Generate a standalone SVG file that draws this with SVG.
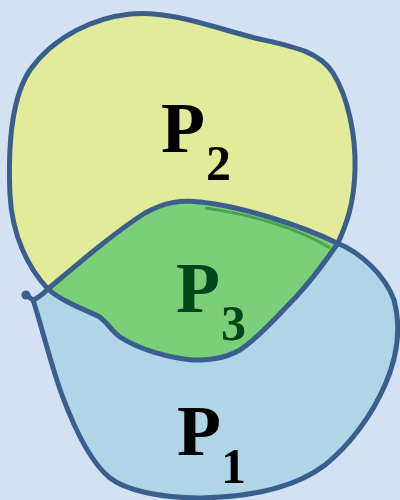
<svg xmlns="http://www.w3.org/2000/svg" width="400" height="500" viewBox="0 0 400 500">
  <style>
    .outline { fill: none; stroke: #3b5f8c; stroke-width: 5; stroke-linejoin: round; stroke-linecap: round; }
    .lbl { font-family: "Liberation Serif", "Times New Roman", serif; font-weight: bold; }
    .big { font-size: 72px; }
    .sub { font-size: 50px; }
  </style>
  <defs>
    <path id="p2shape" d="M 48,289 C 28,268 12,235 10,195 C 8,150 10,100 30,70 C 55,35 95,18 130,14 C 170,10 215,28 255,38 C 290,46 318,50 333,73 C 348,97 356,135 355,170 C 354,205 346,225 338,243 C 325,262 310,282 295,298 C 280,313 262,335 240,350 C 222,360 205,360 193,360 C 170,358 140,350 120,337 C 110,330 106,320 98,316 C 80,308 60,300 48,289 Z"/>
    <path id="p1shape" d="M 33,300 C 38,298 44,293 48,289 C 80,262 115,232 145,213 C 165,202 180,200 200,202 C 240,206 300,225 337,243 C 360,252 385,275 394,300 C 402,330 396,360 385,385 C 372,415 350,445 325,465 C 295,488 250,497 200,498 C 160,498 125,490 110,478 C 90,462 75,430 62,395 C 50,362 40,320 33,300 Z"/>
    <clipPath id="clipP1"><use href="#p1shape"/></clipPath>
  </defs>
  <rect x="0" y="0" width="400" height="500" fill="#d3e1f3"/>
  <g id="P2">
    <use href="#p2shape" fill="#e2eb99"/>
  </g>
  <g id="P1">
    <use href="#p1shape" fill="#b0d5e6"/>
  </g>
  <g id="P3">
    <use href="#p2shape" fill="#7acf78" clip-path="url(#clipP1)"/>
    <path d="M 205,208 C 250,214 300,229 330,248" fill="none" stroke="#4fa050" stroke-width="3"/>
    <path d="M 332,251 C 322,265 312,278 302,290" fill="none" stroke="#2a8a78" stroke-width="3"/>
  </g>
  <g id="outlines">
    <use href="#p2shape" class="outline"/>
    <use href="#p1shape" class="outline"/>
    <path d="M 26,295 L 33,300" class="outline"/>
    <circle cx="26" cy="295" r="4.5" fill="#3b5f8c"/>
  </g>
  <g id="labels">
    <text class="lbl big" x="161" y="152" fill="#000">P</text>
    <text class="lbl sub" x="206" y="180" fill="#000">2</text>
    <text class="lbl big" x="176" y="312" fill="#00441b">P</text>
    <text class="lbl sub" x="221" y="340" fill="#00441b">3</text>
    <text class="lbl big" x="177" y="455" fill="#000">P</text>
    <text class="lbl sub" x="221" y="483" fill="#000">1</text>
  </g>
</svg>
